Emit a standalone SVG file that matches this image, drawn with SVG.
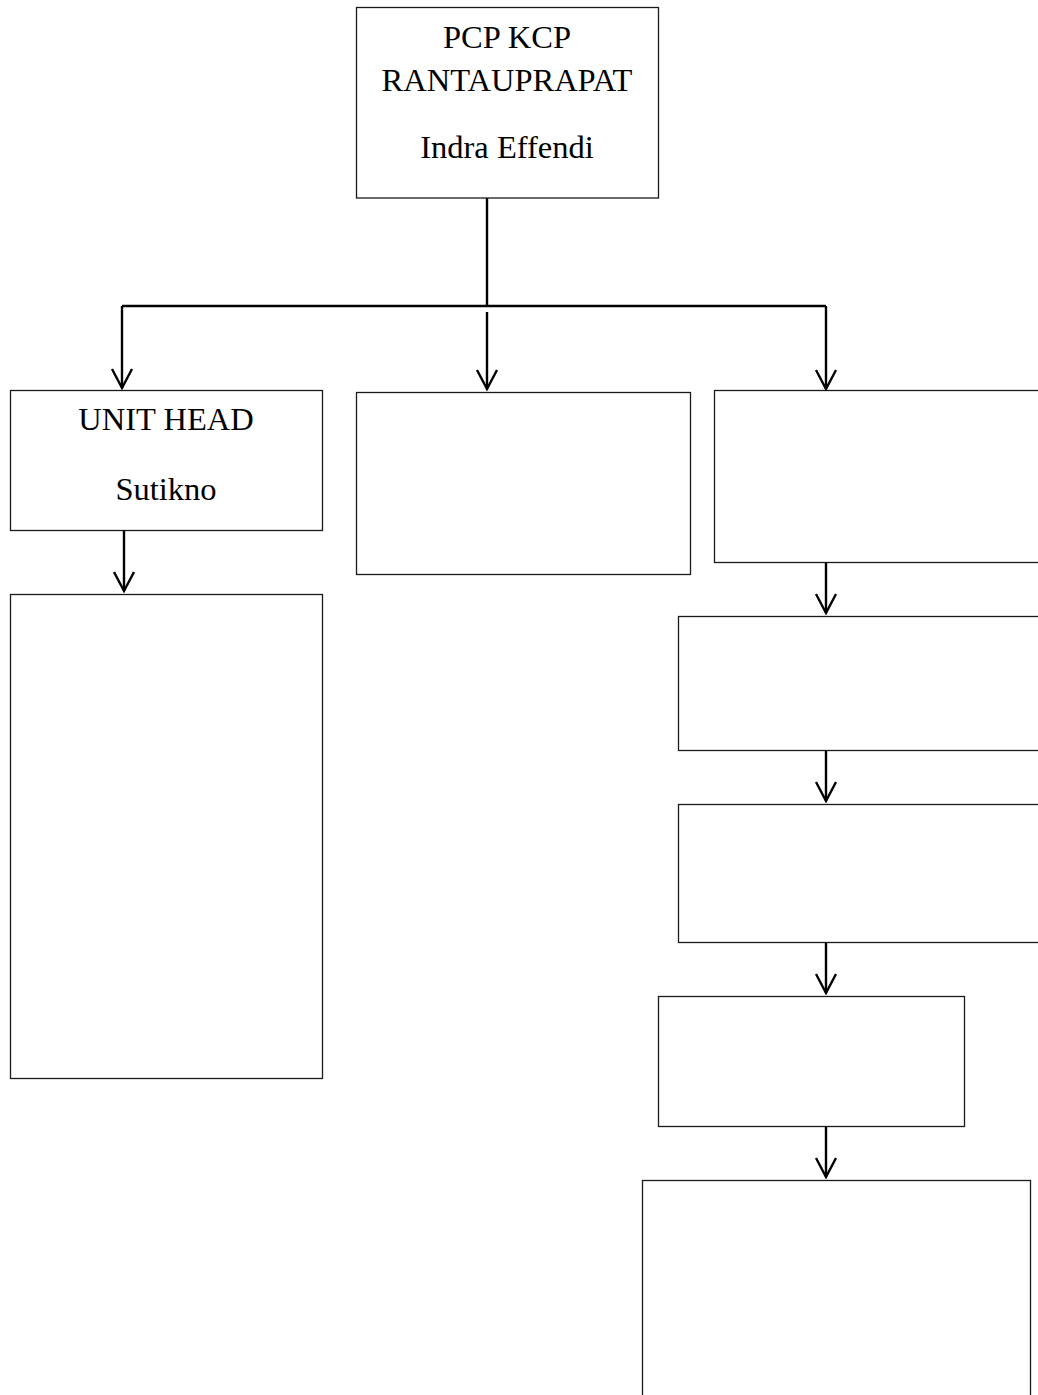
<svg xmlns="http://www.w3.org/2000/svg" width="1038" height="1395" viewBox="0 0 1038 1395">
<style>
.box{fill:#fff;stroke:#1a1a1a;stroke-width:1.3}
.lbl{font-family:"Liberation Serif","Times New Roman",serif;font-size:32.5px;fill:#000;text-anchor:middle}
.con{fill:none;stroke:#000;stroke-width:2.4}
</style>
<defs>
<marker id="arr" markerUnits="userSpaceOnUse" viewBox="-22 -12 26 24" refX="0" refY="0" markerWidth="26" markerHeight="24" orient="auto" overflow="visible">
<path d="M-19,-10 L0,0 L-19,10" fill="none" stroke="#000" stroke-width="2.4"/>
</marker>
</defs>
<rect width="1038" height="1395" fill="#fff"/>
<g id="connectors">
<path class="con" d="M487,198 V306"/>
<path class="con" d="M122,306 H826"/>
<path class="con" d="M122,306 V388" marker-end="url(#arr)"/>
<path class="con" d="M487,312 V389" marker-end="url(#arr)"/>
<path class="con" d="M826,306 V389" marker-end="url(#arr)"/>
<path class="con" d="M124,531 V591" marker-end="url(#arr)"/>
<path class="con" d="M826,562 V613" marker-end="url(#arr)"/>
<path class="con" d="M826,750 V801" marker-end="url(#arr)"/>
<path class="con" d="M826,942 V993" marker-end="url(#arr)"/>
<path class="con" d="M826,1126 V1177" marker-end="url(#arr)"/>
</g>
<g id="node-pcp">
<rect class="box" x="356.5" y="7.5" width="302" height="190.5"/>
<text class="lbl" x="507" y="48">PCP KCP</text>
<text class="lbl" x="507" y="91">RANTAUPRAPAT</text>
<text class="lbl" x="507" y="158">Indra Effendi</text>
</g>
<g id="node-unithead">
<rect class="box" x="10.5" y="390.5" width="312" height="140"/>
<text class="lbl" x="166" y="430">UNIT HEAD</text>
<text class="lbl" x="166" y="500">Sutikno</text>
</g>
<g id="node-left-big">
<rect class="box" x="10.5" y="594.5" width="312" height="484"/>
</g>
<g id="node-middle">
<rect class="box" x="356.5" y="392.5" width="334" height="182"/>
</g>
<g id="node-right-1">
<rect class="box" x="714.5" y="390.5" width="340" height="172"/>
</g>
<g id="node-right-2">
<rect class="box" x="678.5" y="616.5" width="380" height="134"/>
</g>
<g id="node-right-3">
<rect class="box" x="678.5" y="804.5" width="380" height="138"/>
</g>
<g id="node-right-4">
<rect class="box" x="658.5" y="996.5" width="306" height="130"/>
</g>
<g id="node-right-5">
<rect class="box" x="642.5" y="1180.5" width="388" height="240"/>
</g>
</svg>
